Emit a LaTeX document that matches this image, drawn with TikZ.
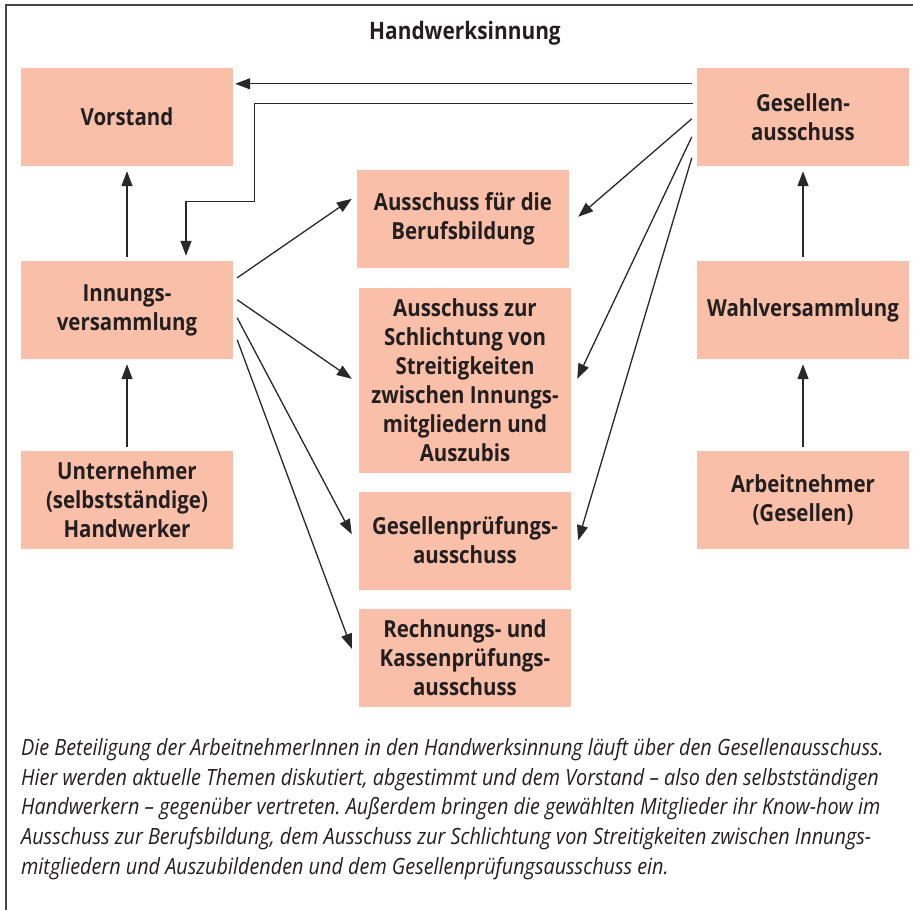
\documentclass[tikz,border=0pt]{standalone}
\usepackage{fontspec}
\usetikzlibrary{arrows.meta,calc}
\newfontfamily\boxfont{Open Sans}[FakeStretch=0.87]
\newfontfamily\capfont{Open Sans}[FakeStretch=0.885]
\frenchspacing
\definecolor{boxfill}{RGB}{249,191,168}
\definecolor{ink}{RGB}{35,31,32}
\definecolor{linecol}{RGB}{40,40,40}
\definecolor{framecol}{RGB}{70,70,70}
\tikzset{
  box/.style={fill=boxfill, minimum width=212bp, minimum height=98bp, inner sep=0pt,
    align=center, text=ink, font=\boxfont\bfseries\fontsize{23.5bp}{29bp}\selectfont},
  arr/.style={draw=linecol, line width=1.3bp, -{Triangle[length=15bp,width=11bp]}},
  frame/.style={draw=framecol, line width=1.6bp},
  captext/.style={align=left, inner sep=0pt, text=ink, font=\capfont\itshape\fontsize{22.4bp}{29.7bp}\selectfont},
  titletext/.style={inner sep=0pt, text=ink, font=\boxfont\bfseries\fontsize{24bp}{29bp}\selectfont}
}
\begin{document}
\begin{tikzpicture}[x=1bp,y=-1bp]
\useasboundingbox (0,0) rectangle (913,910);
\draw[frame] (6,912) -- (6,5) -- (915,5);
\node[titletext, anchor=base] (title) at (465,39) {Handwerksinnung};
% left column
\node[box] (vor) at (127,117) {Vorstand};
\node[box] (inn) at (127,310) {Innungs-\\versammlung};
\node[box] (unt) at (127,500) {Unternehmer\\(selbstständige)\\Handwerker};
% middle column
\node[box] (ber) at (463,219) {Ausschuss für die\\Berufsbildung};
\node[box, minimum height=185bp] (sch) at (465,380.5) {Ausschuss zur\\Schlichtung von\\Streitigkeiten\\zwischen Innungs-\\mitgliedern und\\Auszubis};
\node[box] (gpr) at (465,540.5) {Gesellenprüfungs-\\ausschuss};
\node[box] (rec) at (465,658) {Rechnungs- und\\Kassenprüfungs-\\ausschuss};
% right column
\node[box] (ges) at (803,117) {Gesellen-\\ausschuss};
\node[box] (wah) at (803,310) {Wahlversammlung};
\node[box] (arb) at (803,500) {Arbeitnehmer\\(Gesellen)};
% connectors
\draw[arr] ($(ges.north west)+(-5,16)$) -- ($(vor.north east)+(2,16)$);
\draw[arr] ($(ges.north west)+(-4,36)$) -- ++(-438,0) -- ++(0,98) -| ($(inn.north)+(59,-5)$);
\draw[arr] ($(inn.north)+(0,-4)$) -- ($(vor.south)+(0,5)$);
\draw[arr] ($(unt.north)+(0,-4)$) -- ($(inn.south)+(0,5)$);
\draw[arr] ($(wah.north)+(0,-4)$) -- ($(ges.south)+(0,5)$);
\draw[arr] ($(arb.north)+(0,-4)$) -- ($(wah.south)+(0,5)$);
\draw[arr] ($(inn.north east)+(4,17)$) -- ($(ber.north west)+(-5,29)$);
\draw[arr] ($(inn.north east)+(4,39)$) -- ($(sch.north west)+(-7,91)$);
\draw[arr] ($(inn.north east)+(4,57)$) -- ($(gpr.north west)+(-7,43)$);
\draw[arr] ($(inn.north east)+(4,79)$) -- ($(rec.north west)+(-7,40)$);
\draw[arr] ($(ges.north west)+(-5,51)$) -- ($(ber.north east)+(9,47)$);
\draw[arr] ($(ges.north west)+(-5,69)$) -- ($(sch.north east)+(6,91)$);
\draw[arr] ($(ges.north west)+(-5,90)$) -- ($(gpr.north east)+(7,49)$);
% caption
\node[captext, anchor=north west] (cap) at (21,738) {Die Beteiligung der ArbeitnehmerInnen in den Handwerksinnung läuft über den Gesellenausschuss.\\Hier werden aktuelle Themen diskutiert, abgestimmt und dem Vorstand – also den selbstständigen\\Handwerkern – gegenüber vertreten. Außerdem bringen die gewählten Mitglieder ihr Know-how im\\Ausschuss zur Berufsbildung, dem Ausschuss zur Schlichtung von Streitigkeiten zwischen Innungs-\\mitgliedern und Auszubildenden und dem Gesellenprüfungsausschuss ein.};
\end{tikzpicture}
\end{document}
